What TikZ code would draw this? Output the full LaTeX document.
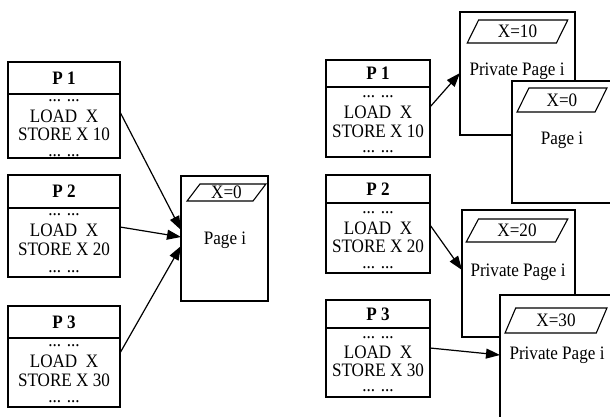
\documentclass[tikz,border=0pt]{standalone}
\usepackage{fontspec}
\setmainfont{Liberation Serif}[FakeStretch=0.9]
\usetikzlibrary{arrows.meta,shapes.geometric}
\begin{document}
\begin{tikzpicture}[x=1pt,y=-1pt,
  box/.style={draw, line width=1.1pt, fill=white, inner sep=0pt, outer sep=0pt},
  hdr/.style={box, font=\bfseries\fontsize{19}{20}\selectfont},
  txt/.style={font=\fontsize{19}{20}\selectfont, inner sep=0pt, anchor=base},
  lbl/.style={font=\fontsize{19}{20}\selectfont, inner sep=0pt},
  para/.style={draw, line width=1.1pt, fill=white, trapezium, trapezium stretches=true,
    inner sep=0pt, outer sep=0pt, font=\fontsize{19}{20}\selectfont},
  arr/.style={line width=1.2pt, -{Triangle[length=14pt,width=10pt]}}
]
\useasboundingbox (0,0) rectangle (610,417);
\clip (0,0) rectangle (610,417);
\fill[white] (0,0) rectangle (610,417);

% ---------------- left side ----------------
\node[hdr, minimum width=112pt, minimum height=32pt] (lh1) at (64,78) {P 1};
\node[box, minimum width=112pt, minimum height=64pt] (lb1) at (64,126) {};
\node[txt] (l1a) at (64,102) {... ...};
\node[txt] (l1b) at (64,122) {LOAD\ \ X};
\node[txt] (l1c) at (64,140) {STORE X 10};
\node[txt] (l1d) at (64,156) {... ...};

\node[hdr, minimum width=112pt, minimum height=33pt] (lh2) at (64,191.5) {P 2};
\node[box, minimum width=112pt, minimum height=69pt] (lb2) at (64,242.5) {};
\node[txt] (l2a) at (64,215) {... ...};
\node[txt] (l2b) at (64,236) {LOAD\ \ X};
\node[txt] (l2c) at (64,255) {STORE X 20};
\node[txt] (l2d) at (64,272) {... ...};

\node[hdr, minimum width=112pt, minimum height=32pt] (lh3) at (64,322) {P 3};
\node[box, minimum width=112pt, minimum height=69pt] (lb3) at (64,372.5) {};
\node[txt] (l3a) at (64,346) {... ...};
\node[txt] (l3b) at (64,367) {LOAD\ \ X};
\node[txt] (l3c) at (64,386) {STORE X 30};
\node[txt] (l3d) at (64,402) {... ...};

\node[box, minimum width=87pt, minimum height=125pt] (lpage) at (224.5,238.5) {};
\node[para, trapezium left angle=60, trapezium right angle=120,
  minimum width=79pt, minimum height=17pt] (lx) at (226.5,192.5) {X=0};
\node[lbl] (lpt) at (225,240) {Page i};

\draw[arr] ([yshift=14pt]lb1.east) -- ([yshift=8.5pt]lpage.west);
\draw[arr] ([yshift=15.5pt]lb2.east) -- ([yshift=1.5pt]lpage.west);
\draw[arr] ([yshift=19.5pt]lb3.east) -- ([yshift=-7.5pt]lpage.west);

% ---------------- right side ----------------
\node[hdr, minimum width=104pt, minimum height=27pt] (rh1) at (378,73.5) {P 1};
\node[box, minimum width=104pt, minimum height=70pt] (rb1) at (378,122) {};
\node[txt] (r1a) at (378,98) {... ...};
\node[txt] (r1b) at (378,119) {LOAD\ \ X};
\node[txt] (r1c) at (378,137) {STORE X 10};
\node[txt] (r1d) at (378,152) {... ...};

\node[hdr, minimum width=104pt, minimum height=28pt] (rh2) at (378,189) {P 2};
\node[box, minimum width=104pt, minimum height=70pt] (rb2) at (378,238) {};
\node[txt] (r2a) at (378,213) {... ...};
\node[txt] (r2b) at (378,234) {LOAD\ \ X};
\node[txt] (r2c) at (378,252) {STORE X 20};
\node[txt] (r2d) at (378,268) {... ...};

\node[hdr, minimum width=104pt, minimum height=28pt] (rh3) at (378,314) {P 3};
\node[box, minimum width=104pt, minimum height=69pt] (rb3) at (378,362.5) {};
\node[txt] (r3a) at (378,338) {... ...};
\node[txt] (r3b) at (378,358) {LOAD\ \ X};
\node[txt] (r3c) at (378,376) {STORE X 30};
\node[txt] (r3d) at (378,391) {... ...};

\node[box, minimum width=115pt, minimum height=123pt] (pp1) at (517.5,73.5) {};
\node[para, trapezium left angle=66, trapezium right angle=114,
  minimum width=101pt, minimum height=23pt] (x10) at (517.5,31.5) {X=10};
\node[lbl] (pp1t) at (517,71) {Private Page i};

\node[box, minimum width=113pt, minimum height=122pt] (rpage) at (568.5,142) {};
\node[para, trapezium left angle=67, trapezium right angle=113,
  minimum width=90pt, minimum height=24pt] (rx0) at (562,100) {X=0};
\node[lbl] (rpt) at (562,140) {Page i};

\node[box, minimum width=113pt, minimum height=127pt] (pp2) at (518.5,273.5) {};
\node[para, trapezium left angle=64, trapezium right angle=116,
  minimum width=102pt, minimum height=23pt] (x20) at (517,230.5) {X=20};
\node[lbl] (pp2t) at (518,272) {Private Page i};

\node[box, minimum width=125pt, minimum height=135pt] (pp3) at (562.5,362.5) {};
\node[para, trapezium left angle=68, trapezium right angle=112,
  minimum width=102pt, minimum height=25pt] (x30) at (556,320.5) {X=30};
\node[lbl] (pp3t) at (557,355) {Private Page i};

\draw[arr] ([yshift=15pt]rb1.east) -- ([yshift=0.5pt]pp1.west);
\draw[arr] ([yshift=13pt]rb2.east) -- ([yshift=3.5pt]pp2.west);
\draw[arr] ([yshift=14.5pt]rb3.east) -- ([yshift=7.5pt]pp3.west);
\end{tikzpicture}
\end{document}
